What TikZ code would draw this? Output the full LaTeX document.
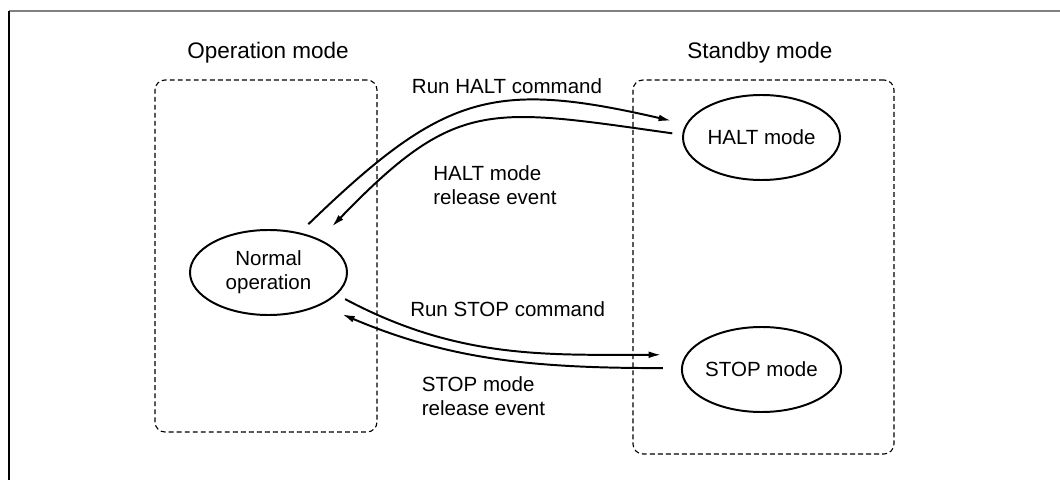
\documentclass[tikz,border=0pt]{standalone}
\usepackage{fontspec}
\setmainfont{Liberation Sans}
\usetikzlibrary{shapes.geometric,arrows.meta}

\begin{document}
\begin{tikzpicture}[font=\fontsize{14.6}{17}\selectfont,
	modebox/.style={draw, dash pattern=on 3.5pt off 2.2pt, line width=0.8pt, rounded corners=0.25cm},
	title/.style={font=\fontsize{16}{19}\selectfont},
	state/.style={draw, ellipse, line width=1.4pt, inner sep=0pt, minimum width=3.925cm, 
	minimum height=2.125cm, align=center},
	trans/.style={-{Latex[length=9pt,width=4.8pt]}, line width=1.4pt}]
	
	\useasboundingbox (0,0) rectangle (26.5,12);
	
	%Page frame
	\draw[gray, line width=1.4pt] (0.225,11.725) -- (26.5,11.725);
	\draw[line width=0.9pt] (0.225,11.725) -- (0.225,0);
	
	%Mode areas
	\node (operationArea) at (6.65,5.6) [modebox, minimum width=5.55cm, minimum height=8.8cm]{};
	\node (standbyArea) at (19.0875,5.325) [modebox, minimum width=6.525cm, minimum height=9.35cm]{};
	\node (operationTitle) at (6.7,10.675) [title]{Operation mode};
	\node (standbyTitle) at (19.0,10.675) [title]{Standby mode};
	
	%States
	\node (normal) at (6.7125,5.1875) [state]{Normal\\operation};
	\node (halt) at (19.0375,8.5625) [state]{HALT mode};
	\node (stop) at (19.0375,2.7625) [state]{STOP mode};
	
	%Links
	\draw[trans, shorten <=0.3cm, shorten >=0.375cm] (normal.52) to[out=44, in=167, looseness=1.27] (halt.170);
	\draw[trans, shorten <=0.25cm, shorten >=0.44cm] (halt.178) to[out=172, in=46, looseness=1.33] (normal.33);
	\draw[trans, shorten <=0.235cm, shorten >=0.61cm] (normal.-18) to[out=-28, in=180] (stop.169);
	\draw[trans, shorten <=0.45cm, shorten >=0.575cm] (stop.179) to[out=180, in=-23] (normal.-32);
	
	%Labels
	\node (runHalt) at (12.675,9.85) {Run HALT command};
	\node (haltRelease) at (10.825,7.375) [anchor=west, align=left, inner sep=0pt]{HALT mode\\release event};
	\node (runStop) at (12.69,4.275) {Run STOP command};
	\node (stopRelease) at (10.54,2.0875) [anchor=west, align=left, inner sep=0pt]{STOP mode\\release event};
	
\end{tikzpicture}
\end{document}
